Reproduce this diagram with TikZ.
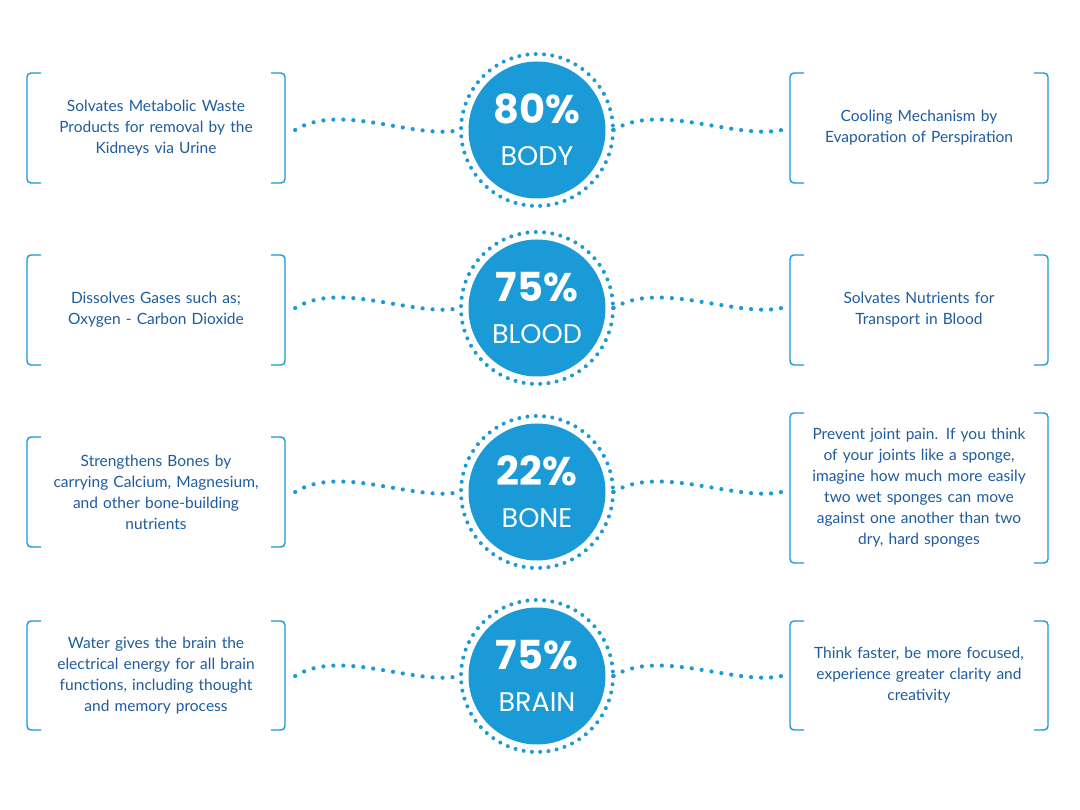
\documentclass[tikz,border=0pt]{standalone}
\usepackage{fontspec}
\setmainfont{Lato}
\newfontfamily\numfont{Poppins}
\definecolor{cblue}{HTML}{1A9AD6}
\definecolor{tblue}{HTML}{1F5C9E}
\begin{document}
\begin{tikzpicture}[x=1pt,y=-1pt,
  txt/.style={text=tblue,font=\fontsize{15.5}{21}\selectfont,align=center,text width=250pt,minimum width=258pt,inner sep=0pt},
  brk/.style={draw=cblue,line width=1.4pt,rounded corners=4pt},
  circ/.style={circle,fill=cblue,minimum size=137pt,inner sep=0pt,text=white,align=center},
  ring/.style={draw=cblue,line width=4pt,line cap=round,dash pattern=on 0pt off 8.3pt},
  wave/.style={draw=cblue,line width=4.2pt,line cap=round,dash pattern=on 0pt off 10pt}]
\fill[white] (0,0) rectangle (1080,810);
\newcommand\mybrack[4]{% name, x, ytop, ybot
  \draw[brk] (#2+14,#3) -- (#2,#3) -- (#2,#4) -- (#2+14,#4);
  \draw[brk] (#2+244,#3) -- (#2+258,#3) -- (#2+258,#4) -- (#2+244,#4);}
\newcommand\myrow[9]{% y, num, word, lefttext, righttext, lt, lb, rt, rb
  \node[circ,font=\numfont\fontsize{27}{30}\selectfont] (c#2#3) at (537,#1) {{\bfseries\fontsize{40}{40}\selectfont #2\%}\\[12pt]#3};
  \draw[ring] (537,#1) circle (76);
  \node[txt] (l#2#3) at (156,{(#6+#7)/2}) {#4};
  \node[txt] (r#2#3) at (919,{(#8+#9)/2}) {#5};
  \mybrack{l}{27}{#6}{#7}
  \mybrack{r}{790}{#8}{#9}
  \draw[wave] ([xshift=10pt]l#2#3.east |- 0,#1) .. controls +(45,-28) and +(-45,10) .. ([xshift=-8pt]c#2#3.west);
  \draw[wave] ([xshift=8pt]c#2#3.east) .. controls +(45,-28) and +(-45,10) .. ([xshift=-8pt]r#2#3.west |- 0,#1);
}
\myrow{130}{80}{BODY}{Solvates Metabolic Waste\\Products for removal by the\\Kidneys via Urine}{Cooling Mechanism by\\Evaporation of Perspiration}{73}{183}{73}{183}
\myrow{308}{75}{BLOOD}{Dissolves Gases such as;\\Oxygen - Carbon Dioxide}{Solvates Nutrients for\\Transport in Blood}{255}{365}{255}{365}
\myrow{492}{22}{BONE}{Strengthens Bones by\\carrying Calcium, Magnesium,\\and other bone-building\\nutrients}{Prevent joint pain. If you think\\of your joints like a sponge,\\imagine how much more easily\\two wet sponges can move\\against one another than two\\dry, hard sponges}{437}{547}{413}{563}
\myrow{676}{75}{BRAIN}{Water gives the brain the\\electrical energy for all brain\\functions, including thought\\and memory process}{Think faster, be more focused,\\experience greater clarity and\\creativity}{621}{730}{621}{730}
\end{tikzpicture}
\end{document}
